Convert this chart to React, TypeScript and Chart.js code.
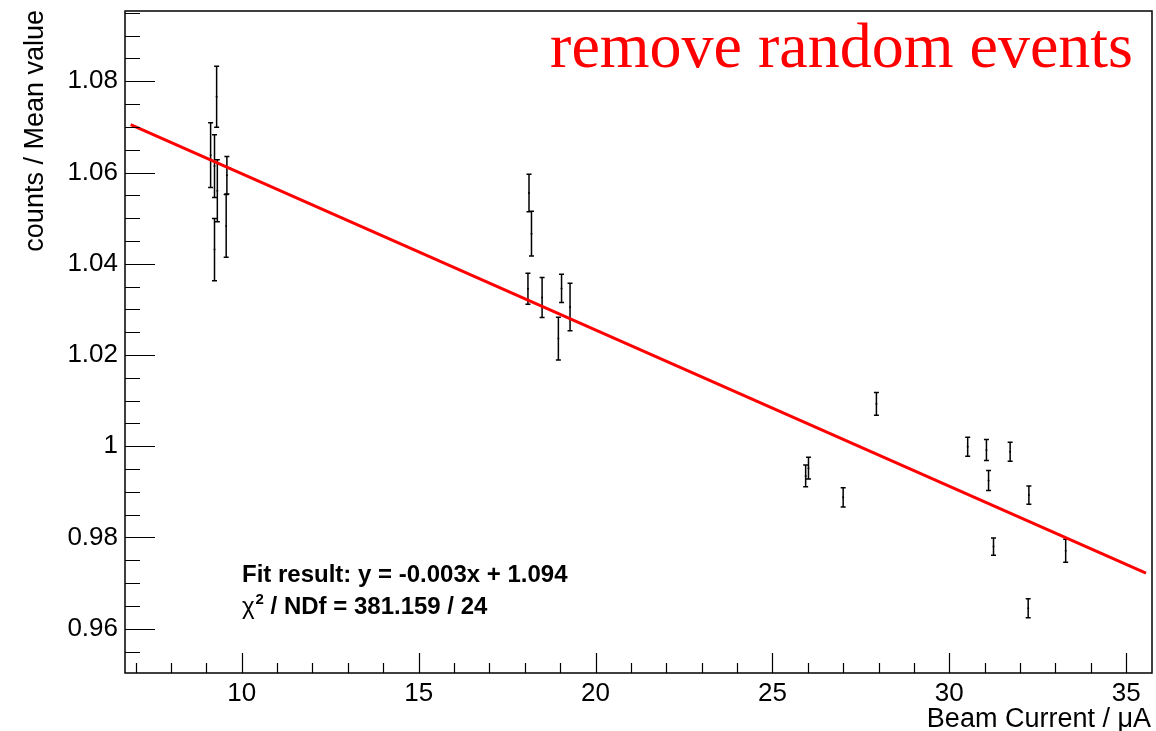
import React, { useEffect, useRef } from "react";
import { Chart, registerables } from "chart.js";

Chart.register(...registerables);

// ---- data ----
const xValues = [
  9.29, 9.12, 9.23, 9.31, 9.23, 9.58, 9.56,
  18.12, 18.19, 18.09, 18.49, 19.04, 18.95, 19.28,
  27.94, 26.02, 25.94, 27.0,
  30.52, 31.05, 31.72, 31.11, 32.25, 31.25, 33.29, 32.23,
];
const yValues = [
  1.0766, 1.0638, 1.0614, 1.056, 1.0431, 1.0594, 1.0483,
  1.0555, 1.0466, 1.0345, 1.0326, 1.0346, 1.0236, 1.0305,
  1.0093, 0.9952, 0.9935, 0.9888,
  0.9999, 0.9992, 0.9988, 0.9925, 0.9893, 0.978, 0.9771, 0.9645,
];
const yErrors = [
  0.0067, 0.0071, 0.0069, 0.0068, 0.0068, 0.0041, 0.0069,
  0.0041, 0.0049, 0.0034, 0.0044, 0.0031, 0.0047, 0.0052,
  0.0025, 0.0024, 0.0024, 0.0021,
  0.0021, 0.0023, 0.0021, 0.0022, 0.002, 0.0019, 0.0025, 0.0021,
];
const fitX = [6.86, 35.56];
const fitY = [1.0705, 0.9722];

const xTicks = [10, 15, 20, 25, 30, 35];
const yTicks = [0.96, 0.98, 1.0, 1.02, 1.04, 1.06, 1.08];

const X_MIN = 6.7;
const X_MAX = 35.73;
const Y_MIN = 0.9503;
const Y_MAX = 1.0954;

const titleText = "remove random events";
const fitLine1 = "Fit result: y = -0.003x + 1.094";
const fitLine2 = " / NDf = 381.159 / 24";
const xTitle = "Beam Current / \u03bcA";
const yTitle = "counts / Mean value";

const SANS = "'Liberation Sans', Arial, Helvetica, sans-serif";
const SERIF = "'Liberation Serif', 'Times New Roman', serif";

const rootPlugin = {
  id: "rootStyle",
  beforeDatasetsDraw(chart: any) {
    const { ctx, scales } = chart;
    const x = scales.x;
    const y = scales.y;
    ctx.save();
    ctx.strokeStyle = "#000";
    ctx.lineWidth = 1.5;
    xValues.forEach((xv, i) => {
      const px = x.getPixelForValue(xv);
      const top = y.getPixelForValue(yValues[i] + yErrors[i]);
      const bot = y.getPixelForValue(yValues[i] - yErrors[i]);
      ctx.beginPath();
      ctx.moveTo(px, top);
      ctx.lineTo(px, bot);
      ctx.moveTo(px - 2.5, top);
      ctx.lineTo(px + 2.5, top);
      ctx.moveTo(px - 2.5, bot);
      ctx.lineTo(px + 2.5, bot);
      ctx.stroke();
    });
    ctx.restore();
  },
  afterDraw(chart: any) {
    const { ctx, chartArea, scales } = chart;
    const x = scales.x;
    const y = scales.y;
    const { left, right, top, bottom } = chartArea;
    ctx.save();
    ctx.strokeStyle = "#000";
    ctx.lineWidth = 1.5;
    ctx.strokeRect(left, top, right - left, bottom - top);

    // x ticks (inward)
    ctx.lineWidth = 1.2;
    ctx.beginPath();
    for (let v = Math.ceil(x.min); v <= x.max; v++) {
      const px = Math.round(x.getPixelForValue(v)) + 0.5;
      const major = v % 5 === 0;
      ctx.moveTo(px, bottom);
      ctx.lineTo(px, bottom - (major ? 20 : 10));
    }
    // y ticks (inward)
    const k0 = Math.ceil(y.min / 0.005 - 1e-6);
    const k1 = Math.floor(y.max / 0.005 + 1e-6);
    for (let k = k0; k <= k1; k++) {
      const v = k * 0.005;
      const py = Math.round(y.getPixelForValue(v)) + 0.5;
      const major = k % 4 === 0;
      ctx.moveTo(left, py);
      ctx.lineTo(left + (major ? 30 : 15), py);
    }
    ctx.stroke();

    // red title
    ctx.fillStyle = "#ff0000";
    ctx.font = `64px ${SERIF}`;
    ctx.textAlign = "right";
    ctx.textBaseline = "alphabetic";
    ctx.fillText(titleText, 1133, 67);

    // fit annotation
    ctx.fillStyle = "#000";
    ctx.textAlign = "left";
    ctx.font = `bold 24px ${SANS}`;
    ctx.fillText(fitLine1, 242, 582);
    let cx = 242;
    ctx.font = `24px ${SANS}`;
    ctx.fillText("\u03c7", cx, 614);
    cx += ctx.measureText("\u03c7").width + 1;
    ctx.font = `bold 15px ${SANS}`;
    ctx.fillText("2", cx, 604);
    cx += ctx.measureText("2").width;
    ctx.font = `bold 24px ${SANS}`;
    ctx.fillText(fitLine2, cx, 614);

    // axis titles
    ctx.font = `27px ${SANS}`;
    ctx.textAlign = "right";
    ctx.fillText(xTitle, 1151, 727);
    ctx.save();
    ctx.translate(43, 10);
    ctx.rotate(-Math.PI / 2);
    ctx.textAlign = "right";
    ctx.textBaseline = "alphabetic";
    ctx.fillText(yTitle, 0, 0);
    ctx.restore();

    ctx.restore();
  },
};

export default function App() {
  const ref = useRef<HTMLCanvasElement | null>(null);
  useEffect(() => {
    if (!ref.current) return;
    Chart.defaults.font.family = SANS;
    const chart = new Chart(ref.current, {
      type: "scatter",
      data: {
        datasets: [
          {
            type: "scatter",
            data: xValues.map((v, i) => ({ x: v, y: yValues[i] })),
            pointRadius: 1,
            pointBackgroundColor: "#000",
            pointBorderColor: "#000",
            pointBorderWidth: 0,
          },
          {
            type: "line",
            data: fitX.map((v, i) => ({ x: v, y: fitY[i] })),
            borderColor: "#ff0000",
            borderWidth: 3,
            pointRadius: 0,
            fill: false,
            tension: 0,
          } as any,
        ],
      },
      options: {
        animation: false,
        responsive: false,
        events: [],
        layout: { padding: { top: 11, right: 3, left: 0, bottom: 0 } },
        plugins: {
          legend: { display: false },
          tooltip: { enabled: false },
        },
        scales: {
          x: {
            type: "linear",
            min: X_MIN,
            max: X_MAX,
            border: { display: false },
            grid: { display: false, drawTicks: false },
            afterBuildTicks: (s: any) => {
              s.ticks = xTicks.map((v) => ({ value: v }));
            },
            afterFit: (s: any) => {
              s.height = 58;
              s.paddingLeft = 0;
              s.paddingRight = 0;
            },
            ticks: {
              color: "#000",
              font: { size: 26, family: SANS },
              padding: 5,
              maxRotation: 0,
              autoSkip: false,
              callback: (v: any) => String(v),
            },
          },
          y: {
            type: "linear",
            min: Y_MIN,
            max: Y_MAX,
            border: { display: false },
            grid: { display: false, drawTicks: false },
            afterBuildTicks: (s: any) => {
              s.ticks = yTicks.map((v) => ({ value: v }));
            },
            afterFit: (s: any) => {
              s.width = 125;
              s.paddingTop = 0;
              s.paddingBottom = 0;
            },
            ticks: {
              color: "#000",
              font: { size: 26, family: SANS },
              padding: 7,
              autoSkip: false,
              callback: (v: any) => String(Number(Number(v).toFixed(3))),
            },
          },
        },
      },
      plugins: [rootPlugin],
    });
    return () => chart.destroy();
  }, []);
  return (
    <div style={{ position: "absolute", left: 0, top: 0, width: 1156, height: 731, background: "#fff" }}>
      <canvas ref={ref} width={1156} height={731} style={{ display: "block" }} />
    </div>
  );
}
